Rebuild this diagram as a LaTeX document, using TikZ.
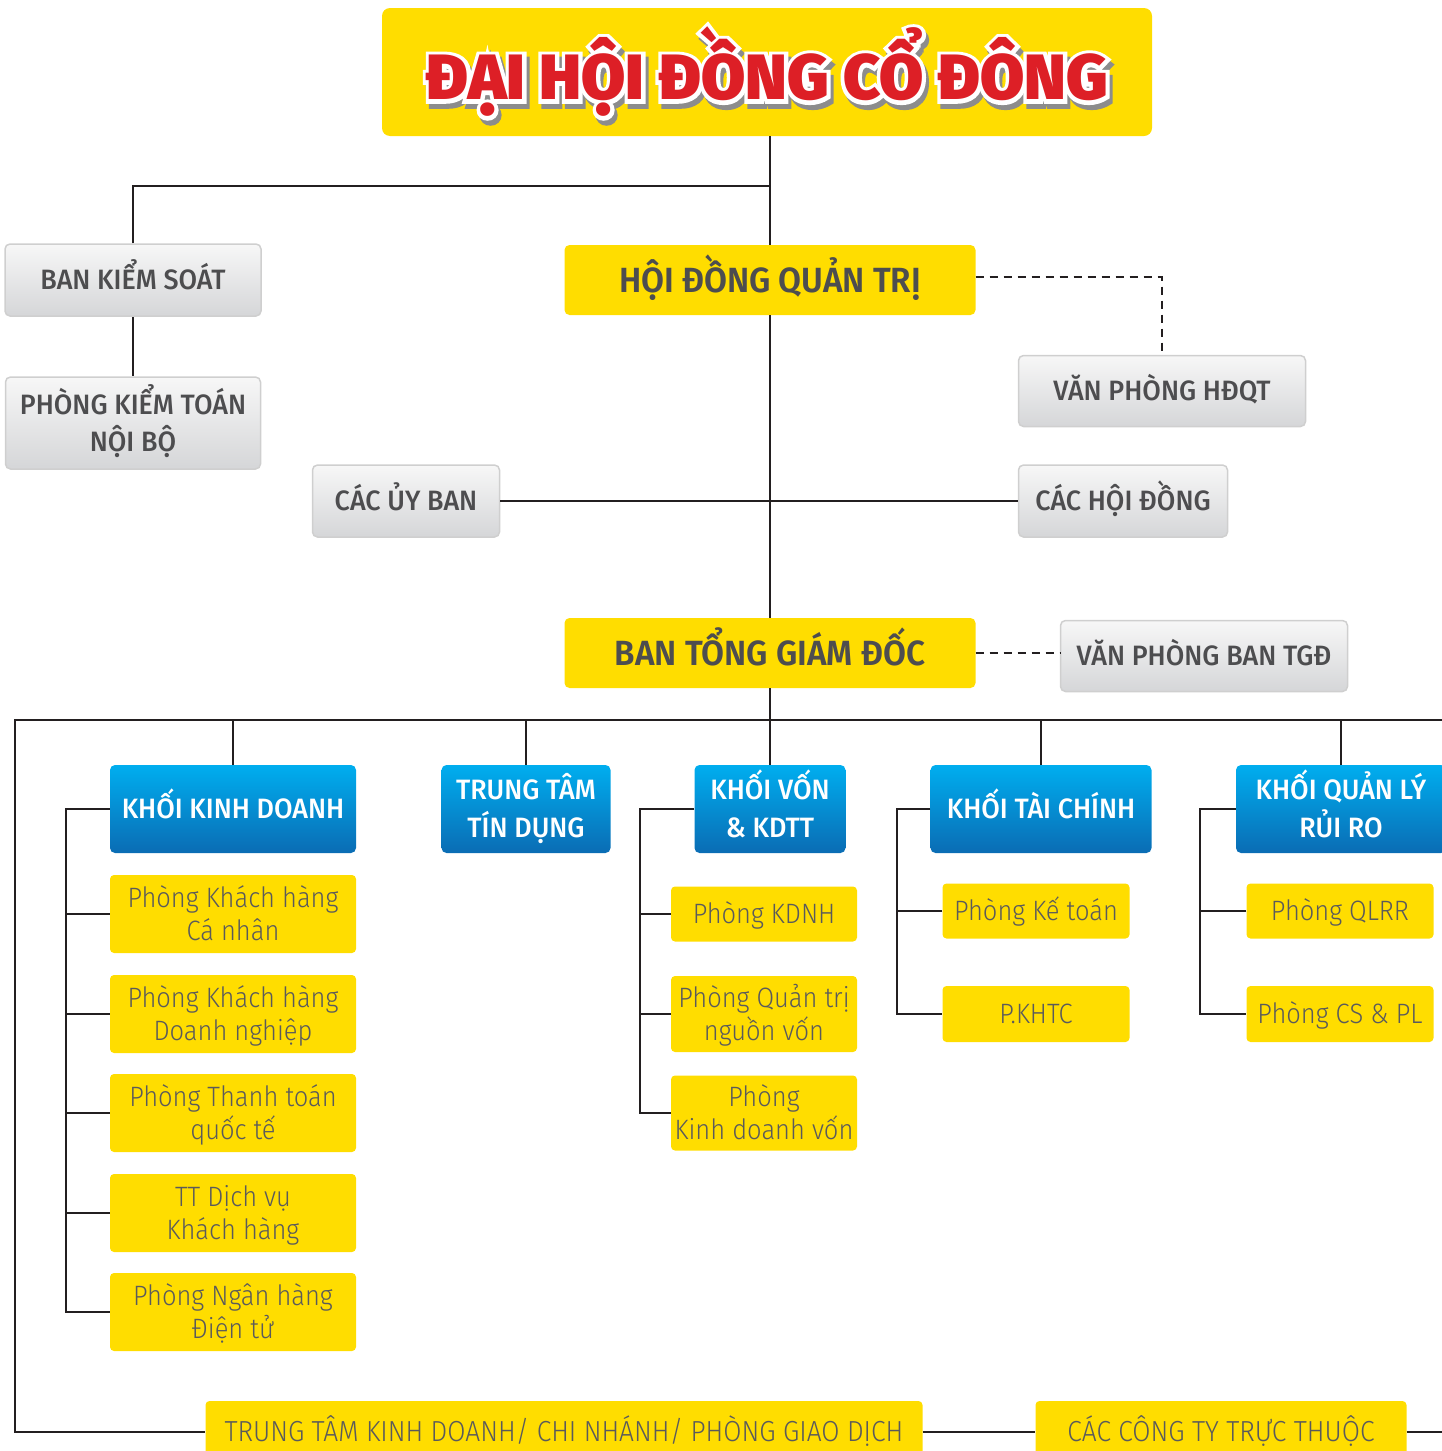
\documentclass[tikz,border=0pt]{standalone}
\usepackage{fontspec}
\setmainfont{Fira Sans}[FakeStretch=0.9]
\newfontfamily\fmed{Fira Sans Medium}[FakeStretch=0.96]
\newfontfamily\flight{Fira Sans Light}[FakeStretch=0.91]
\newfontfamily\fbold{Fira Sans SemiBold}[FakeStretch=0.95]
\newfontfamily\fhead{Fira Sans Black}[FakeStretch=1.0]
\newfontfamily\fheadvien{Fira Sans Black}[FakeStretch=1.0, FakeBold=12]

\definecolor{vang}{HTML}{FFDD00}
\definecolor{xanhtren}{HTML}{00AEEF}
\definecolor{xanhduoi}{HTML}{0A6CB4}
\definecolor{xamtren}{HTML}{F7F7F7}
\definecolor{xamduoi}{HTML}{D5D6D8}
\definecolor{vienxam}{HTML}{CFCFCF}
\definecolor{chuxam}{HTML}{4D4D4F}
\definecolor{chunhat}{HTML}{5A5A5C}
\definecolor{dotuoi}{HTML}{DD1F26}
\definecolor{duongke}{HTML}{231F20}

\begin{document}
\begin{tikzpicture}[
    x=1pt, y=-1pt,
    every node/.style={align=center, inner sep=0pt},
    xam/.style={draw=vienxam, line width=1.5pt, top color=xamtren, bottom color=xamduoi,
      rounded corners=5pt, text=chuxam, font=\fmed\fontsize{28}{37}\selectfont,
      text height=19.3pt, text depth=0pt},
    xam2/.style={xam, text height=56.3pt},
    vangdam/.style={fill=vang, rounded corners=5pt, text=chuxam,
      font=\fbold\fontsize{35}{40}\selectfont, text height=24pt, text depth=0pt},
    xanh/.style={top color=xanhtren, bottom color=xanhduoi, rounded corners=5pt,
      text=white, font=\fmed\fontsize{28}{38}\selectfont, minimum height=88,
      text height=19.3pt, text depth=0pt},
    xanh2/.style={xanh, text height=57.3pt},
    phong/.style={fill=vang, rounded corners=4pt, text=chunhat,
      font=\flight\fontsize{28}{33}\selectfont, text height=19.3pt, text depth=0pt},
    phong2/.style={phong, text height=52.3pt},
    tieude/.style={font=\fhead\fontsize{64}{64}\selectfont},
    tieudevien/.style={font=\fheadvien\fontsize{64}{64}\selectfont},
    lienket/.style={draw=duongke, line width=2.5pt},
    netdut/.style={lienket, dash pattern=on 8pt off 6pt}]

    \useasboundingbox (0,0) rectangle (1442,1451);

    % top level
    \node[fill=vang, rounded corners=8pt, minimum width=770, minimum height=128] (dhcd) at (767,72) {};
    \node[tieudevien, text=black!45, xshift=3pt, yshift=-5pt] (bong) at (dhcd) {ĐẠI HỘI ĐỒNG CỔ ĐÔNG};
    \node[tieudevien, text=white] (vien) at (dhcd) {ĐẠI HỘI ĐỒNG CỔ ĐÔNG};
    \node[tieude, text=dotuoi] (tieude) at (dhcd) {ĐẠI HỘI ĐỒNG CỔ ĐÔNG};

    \node[xam, minimum width=256, minimum height=72] (bks) at (133,280) {BAN KIỂM SOÁT};
    \node[xam2, minimum width=255, minimum height=92] (pktnb) at (133,423) {PHÒNG KIỂM TOÁN\\NỘI BỘ};
    \node[vangdam, minimum width=411, minimum height=70] (hdqt) at (770,280) {HỘI ĐỒNG QUẢN TRỊ};
    \node[xam, minimum width=287, minimum height=71] (vphdqt) at (1162,391) {VĂN PHÒNG HĐQT};
    \node[xam, minimum width=187, minimum height=72] (cuyban) at (406,501) {CÁC ỦY BAN};
    \node[xam, minimum width=209, minimum height=72] (choidong) at (1123,501) {CÁC HỘI ĐỒNG};
    \node[vangdam, minimum width=411, minimum height=70] (btgd) at (770,653) {BAN TỔNG GIÁM ĐỐC};
    \node[xam, minimum width=287, minimum height=71] (vpbtgd) at (1204,656) {VĂN PHÒNG BAN TGĐ};

    % khoi
    \node[xanh, minimum width=246] (kkd) at (233,809) {KHỐI KINH DOANH};
    \node[xanh2, minimum width=169] (ttd) at (526,809) {TRUNG TÂM\\TÍN DỤNG};
    \node[xanh2, minimum width=151] (kvon) at (770,809) {KHỐI VỐN\\\& KDTT};
    \node[xanh, minimum width=221] (ktc) at (1041,809) {KHỐI TÀI CHÍNH};
    \node[xanh2, minimum width=210] (kql) at (1341,809) {KHỐI QUẢN LÝ\\RỦI RO};

    % phong ban
    {
    \node[phong2, minimum width=246, minimum height=78] (kkd1) at (233,914) {Phòng Khách hàng\\Cá nhân};
    \node[phong2, minimum width=246, minimum height=78] (kkd2) at (233,1014) {Phòng Khách hàng\\Doanh nghiệp};
    \node[phong2, minimum width=246, minimum height=78] (kkd3) at (233,1113) {Phòng Thanh toán\\quốc tế};
    \node[phong2, minimum width=246, minimum height=78] (kkd4) at (233,1213) {TT Dịch vụ\\Khách hàng};
    \node[phong2, minimum width=246, minimum height=78] (kkd5) at (233,1312) {Phòng Ngân hàng\\Điện tử};

    \node[phong, minimum width=186, minimum height=55] (kvon1) at (764,914) {Phòng KDNH};
    \node[phong2, minimum width=186, minimum height=76] (kvon2) at (764,1014) {Phòng Quản trị\\nguồn vốn};
    \node[phong2, minimum width=186, minimum height=75] (kvon3) at (764,1113) {Phòng\\Kinh doanh vốn};

    \node[phong, minimum width=187, minimum height=55] (ktc1) at (1036,911) {Phòng Kế toán};
    \node[phong, minimum width=187, minimum height=56] (ktc2) at (1036,1014) {P.KHTC};

    \node[phong, minimum width=187, minimum height=55] (kql1) at (1340,911) {Phòng QLRR};
    \node[phong, minimum width=187, minimum height=56] (kql2) at (1340,1014) {Phòng CS \& PL};
    }

    \node[phong, font=\flight\fontsize{29}{33}\selectfont, minimum width=717, minimum height=62] (ttkd) at (564,1432) {TRUNG TÂM KINH DOANH/ CHI NHÁNH/ PHÒNG GIAO DỊCH};
    \node[phong, font=\flight\fontsize{29}{33}\selectfont, minimum width=371, minimum height=62] (cty) at (1221,1432) {CÁC CÔNG TY TRỰC THUỘC};

    % duong noi
    \coordinate (nhanh1) at (770,186);
    \coordinate (buyt) at (15,720);
    \coordinate (buphai) at (1450,720);
    \coordinate (goc) at (15,1432);
    \coordinate (cuoi) at (1450,1432);

    \draw[lienket] (dhcd.south -| hdqt.north) -- (hdqt.north);
    \draw[lienket] (bks.north) |- (nhanh1);
    \draw[lienket] (bks.south) -- (pktnb.north);
    \draw[lienket] (hdqt.south) -- (btgd.north);
    \draw[lienket] (cuyban.east) -- (choidong.west);
    \draw[netdut] ([yshift=3pt]hdqt.east) -| (vphdqt.north);
    \draw[netdut] (btgd.east) -- (btgd.east -| vpbtgd.west);
    \draw[lienket] (btgd.south) -- (kvon.north);

    \draw[lienket] (buphai) -- (buyt) -- (goc) -- (ttkd.west);
    \draw[lienket] (ttkd.east) -- (cty.west);
    \draw[lienket] (cty.east) -- (cuoi);
    \foreach \k in {kkd, ttd, ktc, kql}
      \draw[lienket] (\k.north) -- (\k.north |- buyt);

    % nhanh ben trai moi khoi
    \coordinate (tkkd) at (66,809);
    \coordinate (tkvon) at (640,809);
    \coordinate (tktc) at (897,809);
    \coordinate (tkql) at (1200,809);

    \draw[lienket] (kkd.west) -- (tkkd) |- (kkd5.west);
    \foreach \i in {1,...,4}
      \draw[lienket] (kkd\i.west) -- (kkd\i.west -| tkkd);
    \draw[lienket] (kvon.west) -- (tkvon) |- (kvon3.west);
    \foreach \i in {1,2}
      \draw[lienket] (kvon\i.west) -- (kvon\i.west -| tkvon);
    \draw[lienket] (ktc.west) -- (tktc) |- (ktc2.west);
    \draw[lienket] (ktc1.west) -- (ktc1.west -| tktc);
    \draw[lienket] (kql.west) -- (tkql) |- (kql2.west);
    \draw[lienket] (kql1.west) -- (kql1.west -| tkql);

\end{tikzpicture}
\end{document}
